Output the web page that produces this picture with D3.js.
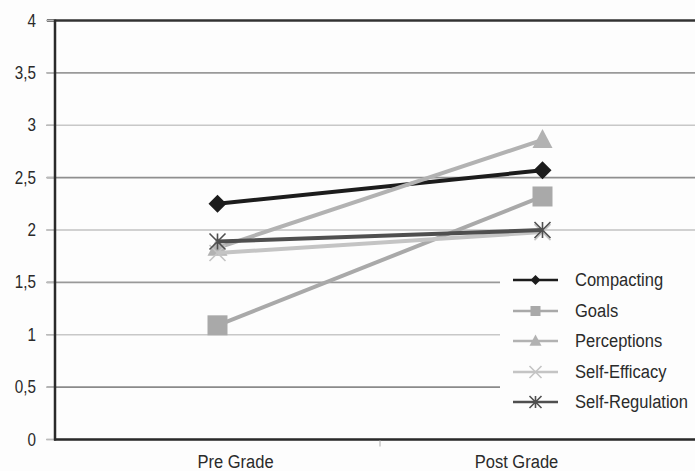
<!DOCTYPE html>
<html>
<head>
<meta charset="utf-8">
<script src="https://cdn.jsdelivr.net/npm/d3@7/dist/d3.min.js"></script>
<style>
  html, body { margin: 0; padding: 0; background: #fdfdfd; }
  svg { display: block; font-family: "Liberation Sans", Arial, sans-serif; }
</style>
</head>
<body>
<svg id="chart" width="695" height="471"></svg>
<script>
// ---- data ----
const categories = ["Pre Grade", "Post Grade"];
const seriesNames = ["Compacting", "Goals", "Perceptions", "Self-Efficacy", "Self-Regulation"];
const compacting = [2.25, 2.57];
const goals = [1.09, 2.32];
const perceptions = [1.83, 2.86];
const selfEfficacy = [1.78, 1.98];
const selfRegulation = [1.89, 2.0];
const yTickValues = [0, 0.5, 1, 1.5, 2, 2.5, 3, 3.5, 4];
const yTickLabels = ["0", "0,5", "1", "1,5", "2", "2,5", "3", "3,5", "4"];

// ---- styles ----
const seriesValues = [compacting, goals, perceptions, selfEfficacy, selfRegulation];
const colors = ["#1c1c1c", "#a9a9a9", "#b2b2b2", "#c4c4c4", "#4f4f4f"];
const markers = ["diamond", "square", "triangle", "x", "star"];
const sx = 0.87; // horizontal text squeeze
const labelShift = [18 / sx, -26 / sx];

const svg = d3.select("#chart");
const mLeft = 55, mRight = 705, mTop = 20.5, mBottom = 439.5;

const x = d3.scaleBand().domain(categories).range([mLeft, mRight]);
const y = d3.scaleLinear().domain([0, 4]).range([mBottom, mTop]);
const cx = c => x(c) + x.bandwidth() / 2;

// gridlines
const gridColors = ["#555", "#8a8a8a", "#c8c8c8", "#999", "#c2c2c2", "#8f8f8f", "#c8c8c8", "#9a9a9a", "#333"];
svg.append("g").selectAll("line").data(yTickValues).join("line")
  .attr("x1", 47).attr("x2", 695)
  .attr("y1", d => y(d)).attr("y2", d => y(d))
  .attr("stroke", (d, i) => i === 0 ? "#ccc" : gridColors[i])
  .attr("stroke-width", (d, i) => i === yTickValues.length - 1 ? 2.5 : 1.6);
svg.append("g").selectAll("line").data(yTickValues).join("line")
  .attr("x1", 46).attr("x2", mLeft)
  .attr("y1", d => y(d)).attr("y2", d => y(d))
  .attr("stroke", "#bbb").attr("stroke-width", 1.5);

// y axis labels
const yAxis = d3.axisLeft(y).tickValues(yTickValues)
  .tickFormat((d, i) => yTickLabels[i]).tickSize(0).tickPadding(19 / sx);
const gy = svg.append("g").attr("transform", `translate(${mLeft},0)`).call(yAxis);
gy.select(".domain").remove();
gy.selectAll("text").attr("font-size", 17.5).attr("fill", "#2a2a2a")
  .attr("font-family", "Liberation Sans, Arial, sans-serif")
  .attr("transform", `scale(${sx},1)`);

// axes lines
svg.append("line").attr("x1", mLeft).attr("x2", mLeft).attr("y1", mTop - 1).attr("y2", mBottom + 1)
  .attr("stroke", "#2a2a2a").attr("stroke-width", 2.5);
svg.append("line").attr("x1", mLeft - 1).attr("x2", 695).attr("y1", mBottom).attr("y2", mBottom)
  .attr("stroke", "#2a2a2a").attr("stroke-width", 2.5);

// x axis
const xAxis = d3.axisBottom(x).tickSize(0).tickPadding(15);
const gx = svg.append("g").attr("transform", `translate(0,${mBottom})`).call(xAxis);
gx.select(".domain").remove();
gx.selectAll("text").attr("font-size", 19).attr("fill", "#2a2a2a")
  .attr("font-family", "Liberation Sans, Arial, sans-serif")
  .attr("dx", (d, i) => labelShift[i])
  .attr("transform", `scale(${sx},1)`);
svg.append("line").attr("x1", x(categories[1])).attr("x2", x(categories[1]))
  .attr("y1", mBottom + 1).attr("y2", mBottom + 7).attr("stroke", "#bbb").attr("stroke-width", 1.2);

// markers
function drawMarker(g, type, color, s) {
  if (type === "diamond") {
    g.append("path").attr("d", `M0,${-s}L${s},0L0,${s}L${-s},0Z`).attr("fill", color);
  } else if (type === "square") {
    g.append("rect").attr("x", -s).attr("y", -s).attr("width", 2 * s).attr("height", 2 * s).attr("fill", color);
  } else if (type === "triangle") {
    g.append("path").attr("d", `M0,${-s * 1.1}L${s},${s * 0.8}L${-s},${s * 0.8}Z`).attr("fill", color);
  } else if (type === "x") {
    g.append("path").attr("d", `M${-s},${-s}L${s},${s}M${-s},${s}L${s},${-s}`)
      .attr("stroke", color).attr("stroke-width", 1.6).attr("fill", "none");
  } else if (type === "star") {
    g.append("path").attr("d", `M${-s},${-s}L${s},${s}M${-s},${s}L${s},${-s}M0,${-s}L0,${s}`)
      .attr("stroke", color).attr("stroke-width", 1.6).attr("fill", "none");
  }
}
const bigSize = [9, 10, 10, 8, 8];
const smallSize = [5, 5, 6, 6, 6];

const line = d3.line().x((d, i) => cx(categories[i])).y(d => y(d));
seriesValues.forEach((vals, si) => {
  const g = svg.append("g");
  g.append("path").datum(vals).attr("d", line)
    .attr("fill", "none").attr("stroke", colors[si]).attr("stroke-width", 4);
  vals.forEach((v, i) => {
    const m = g.append("g").attr("transform", `translate(${cx(categories[i])},${y(v)})`);
    drawMarker(m, markers[si], colors[si], bigSize[si]);
  });
});

// legend
const lg = svg.append("g");
lg.append("rect").attr("x", 500).attr("y", 263).attr("width", 195).attr("height", 155).attr("fill", "#fdfdfd");
const rowY = [280, 311, 341, 372, 402];
seriesNames.forEach((name, i) => {
  const r = lg.append("g").attr("transform", `translate(0,${rowY[i]})`);
  r.append("line").attr("x1", 513).attr("x2", 558).attr("y1", 0).attr("y2", 0)
    .attr("stroke", colors[i]).attr("stroke-width", 2.5);
  const m = r.append("g").attr("transform", "translate(535.5,0)");
  drawMarker(m, markers[i], colors[i], smallSize[i]);
  r.append("text").attr("transform", `translate(575,6) scale(${sx},1)`)
    .attr("font-size", 19).attr("fill", "#2a2a2a").text(name);
});
</script>
</body>
</html>
